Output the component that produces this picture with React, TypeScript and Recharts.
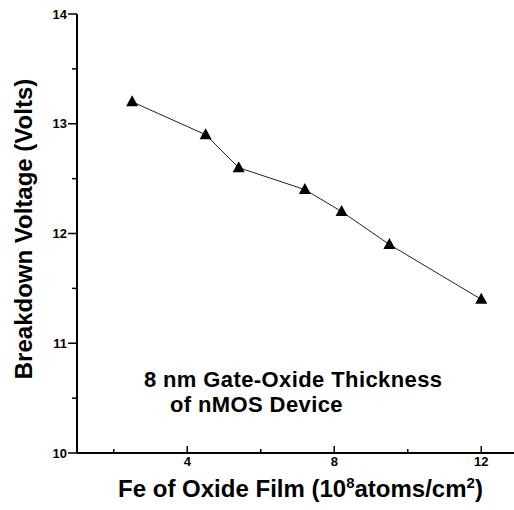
import { Label, Line, LineChart, ReferenceDot, XAxis, YAxis } from "recharts";

const FONT = "'Liberation Sans', Arial, Helvetica, sans-serif";

// Fe contamination (10^8 atoms/cm2) vs. breakdown voltage (V)
const feLevels = [2.5, 4.5, 5.4, 7.2, 8.2, 9.5, 12];
const breakdownVolts = [13.2, 12.9, 12.6, 12.4, 12.2, 11.9, 11.4];

const xTicks = [2, 4, 6, 8, 10, 12];
const xMajorTicks = [4, 8, 12];
const yTicks = [10, 10.5, 11, 11.5, 12, 12.5, 13, 13.5, 14];
const yMajorTicks = [10, 11, 12, 13, 14];

const noteLines = ["8 nm Gate-Oxide Thickness", "of nMOS Device"];
const notePos = { x: 2.82, y: 10.6 };

const data = feLevels.map((fe, i) => ({ fe, volts: breakdownVolts[i] }));

function XTick({ x, y, payload }: any) {
  const major = xMajorTicks.includes(payload.value);
  return (
    <g>
      <line x1={x} y1={y} x2={x} y2={y - (major ? 7 : 4)} stroke="#000" strokeWidth={1.5} />
      {major && (
        <text x={x} y={y + 13} textAnchor="middle" fontSize={13} fontWeight="bold" fontFamily={FONT} fill="#000">
          {payload.value}
        </text>
      )}
    </g>
  );
}

function YTick({ x, y, payload }: any) {
  const major = yMajorTicks.includes(payload.value);
  return (
    <g>
      <line x1={x} y1={y} x2={x - (major ? 9 : 5)} y2={y} stroke="#000" strokeWidth={1.5} />
      {major && (
        <text x={x - 10} y={y + 4.5} textAnchor="end" fontSize={13} fontWeight="bold" fontFamily={FONT} fill="#000">
          {payload.value}
        </text>
      )}
    </g>
  );
}

function TriangleDot({ cx, cy, index }: any) {
  if (cx == null || cy == null) return null;
  return <path key={index} d={`M${cx},${cy - 6.5} L${cx + 6},${cy + 4.5} L${cx - 6},${cy + 4.5} Z`} fill="#000" />;
}

function XTitle({ viewBox }: any) {
  const cx = viewBox.x + viewBox.width / 2 + 3;
  const y = viewBox.y + 44;
  return (
    <text x={cx} y={y} textAnchor="middle" fontSize={24} fontWeight="bold" fontFamily={FONT} fill="#000">
      <tspan>Fe of Oxide Film (10</tspan>
      <tspan dy={-9} fontSize={15}>8</tspan>
      <tspan dy={9}>atoms/cm</tspan>
      <tspan dy={-9} fontSize={15}>2</tspan>
      <tspan dy={9}>)</tspan>
    </text>
  );
}

function YTitle({ viewBox }: any) {
  const tx = viewBox.x + 15;
  const ty = viewBox.y + viewBox.height / 2 - 4.5;
  return (
    <text
      x={0}
      y={0}
      transform={`translate(${tx}, ${ty}) rotate(-90)`}
      textAnchor="middle"
      fontSize={24}
      fontWeight="bold"
      fontFamily={FONT}
      fill="#000"
    >
      Breakdown Voltage (Volts)
    </text>
  );
}

function NoteText({ cx, cy }: any) {
  if (cx == null || cy == null) return null;
  return (
    <text fontSize={22} fontWeight="bold" fontFamily={FONT} letterSpacing={0.4} fill="#000">
      <tspan x={cx} y={cy}>{noteLines[0]}</tspan>
      <tspan x={cx + 26} y={cy + 25}>{noteLines[1]}</tspan>
    </text>
  );
}

export default function App() {
  return (
    <div style={{ position: "absolute", left: 0, top: 0, width: 514, height: 510, overflow: "hidden", background: "#fff" }}>
      <LineChart width={518} height={510} data={data} margin={{ top: 14, right: 0, bottom: 7, left: 17 }}>
        <XAxis
          dataKey="fe"
          type="number"
          domain={[1, 13]}
          ticks={xTicks}
          interval={0}
          tick={<XTick />}
          tickLine={false}
          tickSize={0}
          tickMargin={0}
          height={50}
          axisLine={{ stroke: "#000", strokeWidth: 2 }}
        >
          <Label content={<XTitle />} />
        </XAxis>
        <XAxis
          xAxisId="top"
          orientation="top"
          type="number"
          domain={[1, 13]}
          tick={false}
          tickLine={false}
          height={0}
          axisLine={{ stroke: "#000", strokeWidth: 2.5 }}
        />
        <YAxis
          type="number"
          domain={[10, 14]}
          ticks={yTicks}
          interval={0}
          tick={<YTick />}
          tickLine={false}
          tickSize={0}
          tickMargin={0}
          width={60}
          axisLine={{ stroke: "#000", strokeWidth: 2 }}
        >
          <Label content={<YTitle />} />
        </YAxis>
        <Line
          dataKey="volts"
          stroke="#222"
          strokeWidth={1}
          dot={<TriangleDot />}
          activeDot={false}
          isAnimationActive={false}
        />
        <ReferenceDot x={notePos.x} y={notePos.y} r={0} shape={<NoteText />} />
      </LineChart>
    </div>
  );
}
